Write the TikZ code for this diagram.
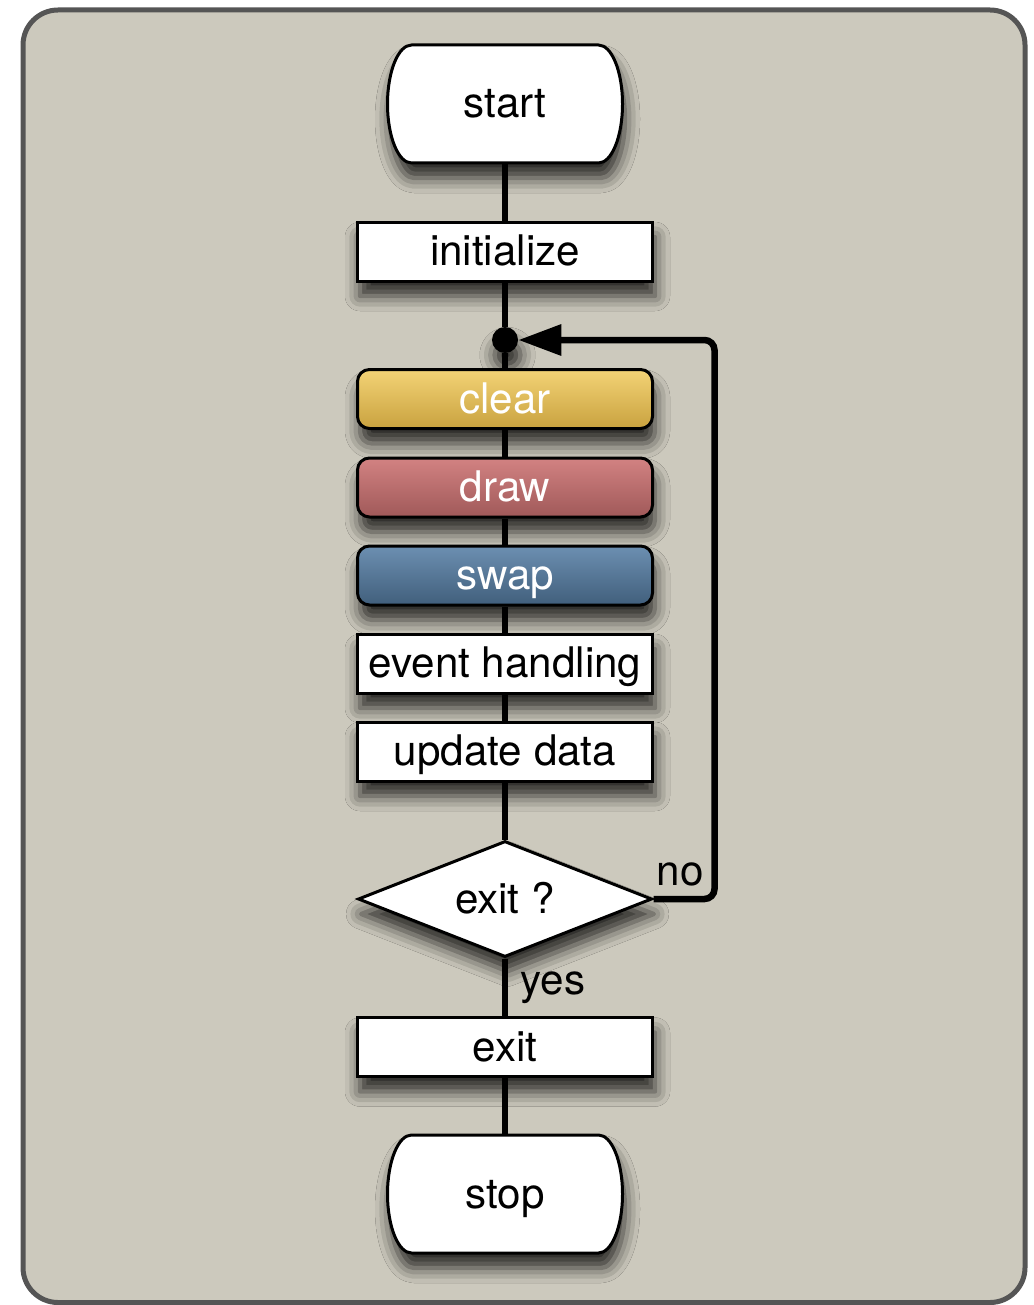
\documentclass[tikz,border=0pt]{standalone}
\usepackage{fontspec}
\setmainfont{TeX Gyre Heros}
\usepackage{tikz}
\usetikzlibrary{arrows.meta, shapes.geometric, shadows.blur}
\usepackage{xcolor}

\definecolor{panelgray}{RGB}{204,201,189}
\definecolor{framegray}{RGB}{85,85,85}
\definecolor{cleartop}{RGB}{243,211,118}
\definecolor{clearbot}{RGB}{201,162,63}
\definecolor{drawtop}{RGB}{210,130,130}
\definecolor{drawbot}{RGB}{160,89,89}
\definecolor{swaptop}{RGB}{108,143,177}
\definecolor{swapbot}{RGB}{65,95,124}

% contour des noeuds start / stop (cotes elliptiques)
\newcommand{\capsulepath}{(-1.87,1.18) -- (1.87,1.18) arc[start angle=90, end angle=-90, x radius=0.48, y radius=1.18] -- (-1.87,-1.18) arc[start angle=270, end angle=90, x radius=0.48, y radius=1.18] -- cycle}

\begin{document}
\begin{tikzpicture}[
    font=\fontsize{24}{28}\selectfont,
    softshadow/.style={blur shadow={shadow xshift=0.05cm, shadow yshift=-0.3cm, shadow blur radius=0.3cm, shadow opacity=80}},
    centred/.style={text height=0.62cm, text depth=0.06cm},
    box/.style={draw, line width=0.06cm, fill=white, minimum width=5.9cm, minimum height=1.18cm, inner sep=0pt, centred, softshadow},
    stagebox/.style={box, rounded corners=0.24cm, text=white, shading=axis},
    capsule/.style={draw, line width=0.06cm, fill=white, softshadow},
    terminal/.style={minimum width=4.7cm, minimum height=2.36cm, inner sep=0pt, centred},
    flow/.style={line width=0.13cm}
]
    % cadre
    \useasboundingbox (0,0) rectangle (20.66,-26.1);
    \draw[framegray, fill=panelgray, line width=0.1cm, rounded corners=0.7cm] (0.46,-0.2) rectangle (20.5,-26.05);

    % contours start / stop
    \begin{scope}
        \path[capsule, shift={(10.1,-2.08)}] \capsulepath;
    \end{scope}
    \begin{scope}
        \path[capsule, shift={(10.1,-23.88)}] \capsulepath;
    \end{scope}

    % noeuds
    \node[terminal] (start) at (10.1,-2.08) {start};
    \node[box] (init) at (10.1,-5.03) {initialize};
    \node[circle, fill=black, minimum size=0.52cm, inner sep=0pt, softshadow] (dot) at (10.1,-6.8) {};
    \node[stagebox, top color=cleartop, middle color=clearbot, bottom color=clearbot] (clear) at (10.1,-7.98) {clear};
    \node[stagebox, top color=drawtop, middle color=drawbot, bottom color=drawbot] (render) at (10.1,-9.75) {draw};
    \node[stagebox, top color=swaptop, middle color=swapbot, bottom color=swapbot] (swap) at (10.1,-11.51) {swap};
    \node[box] (events) at (10.1,-13.27) {event handling};
    \node[box] (update) at (10.1,-15.03) {update data};
    \node[diamond, aspect=2.53, draw, line width=0.06cm, fill=white, minimum width=5.88cm, minimum height=2.32cm, inner sep=0pt, centred, softshadow] (decision) at (10.1,-17.98) {exit ?};
    \node[box] (exit) at (10.1,-20.94) {exit};
    \node[terminal] (stop) at (10.1,-23.88) {stop};

    % liaisons
    \foreach \a/\b in {start/init, init/dot, dot/clear, clear/render, render/swap, swap/events, events/update, update/decision, exit/stop}
        \draw[flow] (\a) -- (\b);
    \draw[flow] (decision) -- node[right, inner sep=0.25cm] {yes} (exit);

    % boucle
    \draw[flow, rounded corners=0.2cm, -{Triangle[length=0.86cm, width=0.6cm, fill=black]}] (decision.east) -- ++(1.22,0) node[above left, inner xsep=0.15cm, inner ysep=0.2cm] {no} |- (dot);
\end{tikzpicture}
\end{document}
